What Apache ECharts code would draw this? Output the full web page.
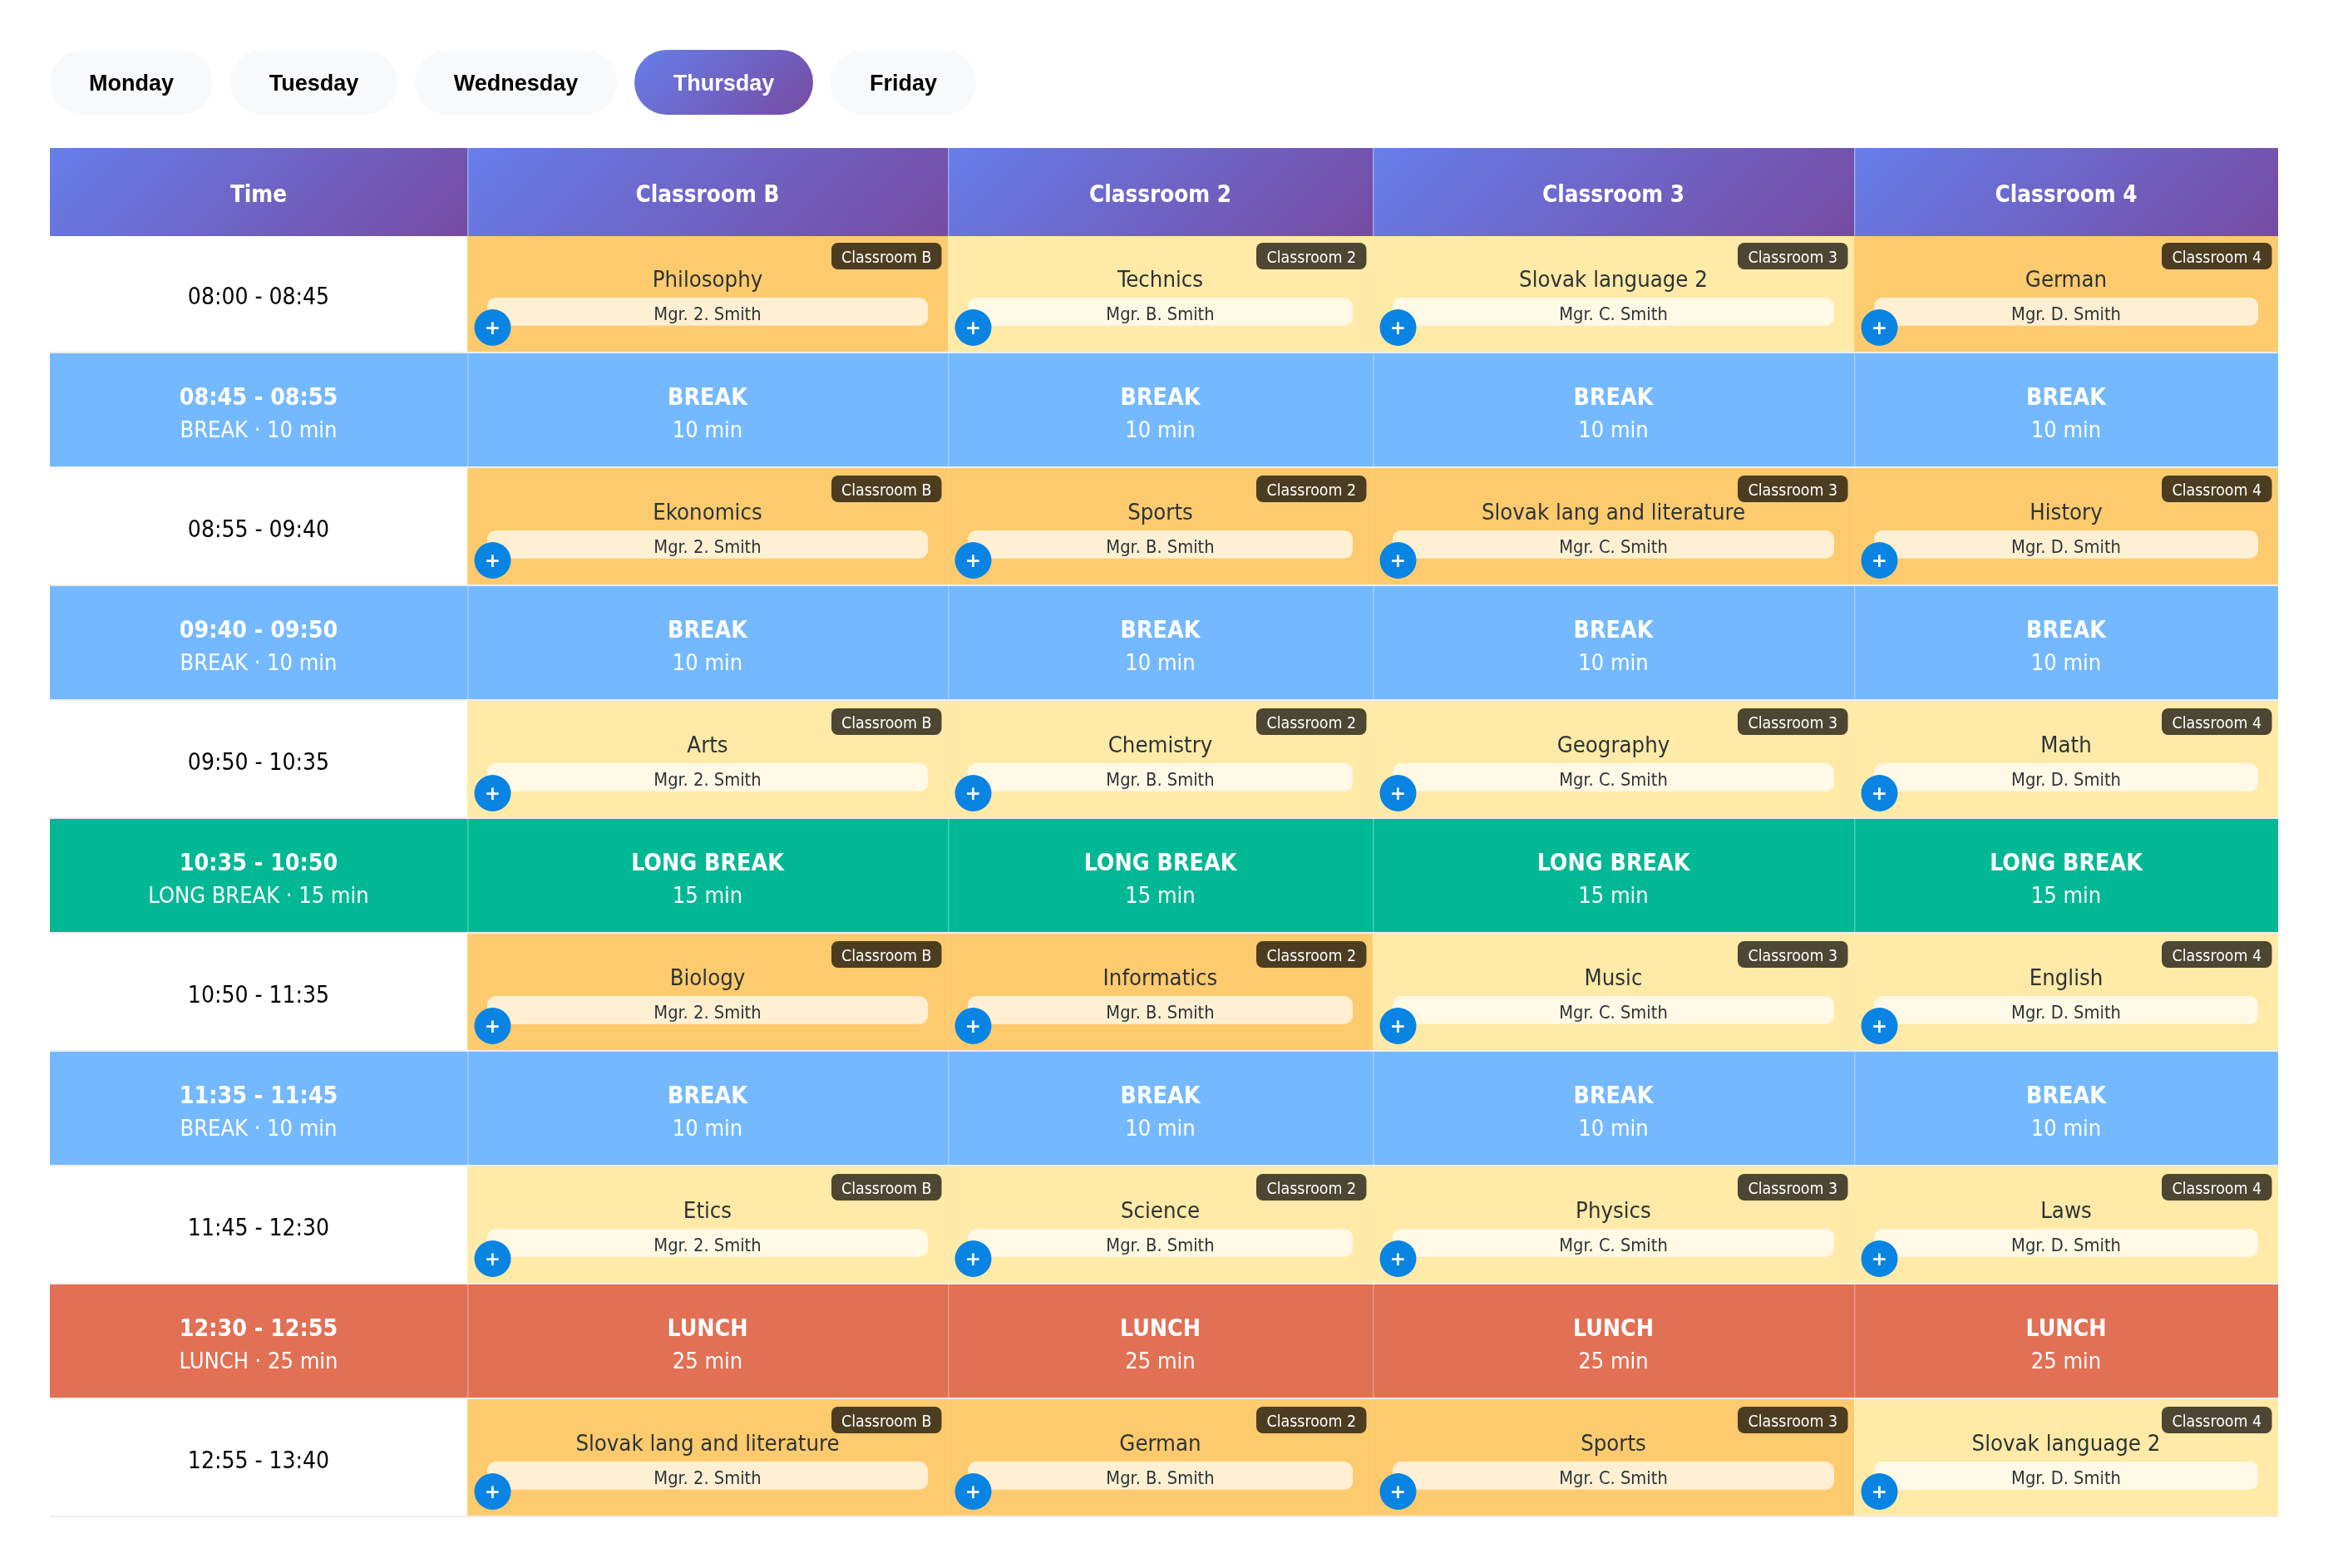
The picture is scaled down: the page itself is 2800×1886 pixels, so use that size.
<!DOCTYPE html>
<html><head><meta charset="utf-8">
<style>html,body{margin:0;padding:0;background:#fff}#c{width:2800px;height:1886px}</style>
<script src="https://cdn.jsdelivr.net/npm/echarts@6/dist/echarts.min.js"></script>
</head><body><div id="c"></div>
<script>
// ---- data ----
const days = ['Monday','Tuesday','Wednesday','Thursday','Friday'];
const activeDay = 'Thursday';
const columns = ['Time','Classroom B','Classroom 2','Classroom 3','Classroom 4'];
const teachers = ['Mgr. 2. Smith','Mgr. B. Smith','Mgr. C. Smith','Mgr. D. Smith'];
const times = ['08:00 - 08:45','08:45 - 08:55','08:55 - 09:40','09:40 - 09:50','09:50 - 10:35','10:35 - 10:50','10:50 - 11:35','11:35 - 11:45','11:45 - 12:30','12:30 - 12:55','12:55 - 13:40'];
const rowKinds = ['lesson','BREAK','lesson','BREAK','lesson','LONG BREAK','lesson','BREAK','lesson','LUNCH','lesson'];
const breakMinutes = [null,10,null,10,null,15,null,10,null,25,null];
const subjects = [
  ['Philosophy','Technics','Slovak language 2','German'],null,
  ['Ekonomics','Sports','Slovak lang and literature','History'],null,
  ['Arts','Chemistry','Geography','Math'],null,
  ['Biology','Informatics','Music','English'],null,
  ['Etics','Science','Physics','Laws'],null,
  ['Slovak lang and literature','German','Sports','Slovak language 2']
];
const tones = [
  ['a','b','b','a'],null,
  ['a','a','a','a'],null,
  ['b','b','b','b'],null,
  ['a','a','b','b'],null,
  ['b','b','b','b'],null,
  ['a','a','a','b']
];
// ---- layout (axis units = page pixels) ----
const dayEdges = [[60,256],[277,478],[499,742],[763,978],[999,1174]];
const dayTop = 60, dayBottom = 138;
const colEdges = [60,562,1140,1651,2230,2740];
const headTop = 178, headBottom = 284;
const rowEdges = [284,425,563,705,843,985,1123,1265,1403,1545,1683,1825];
const FONT = '"DejaVu Sans Condensed","DejaVu Sans",sans-serif';
const ARIAL = '"Liberation Sans",Arial,sans-serif';
const C = {a:'#fdcb6e',b:'#ffeaa7','BREAK':'#74b9ff','LONG BREAK':'#00b894','LUNCH':'#e17055'};

function grad(x0,y0,x1,y1){
  const w=x1-x0,h=y1-y0,d=(w+h)/4,cx=(x0+x1)/2,cy=(y0+y1)/2;
  return new echarts.graphic.LinearGradient(cx-d,cy-d,cx+d,cy+d,[{offset:0,color:'#667eea'},{offset:1,color:'#764ba2'}],true);
}
function rect(api,x0,y0,x1,y1,fill,r){
  const a=api.coord([x0,y0]),b=api.coord([x1,y1]);
  return {type:'rect',shape:{x:a[0],y:a[1],width:b[0]-a[0],height:b[1]-a[1],r:r||0},style:{fill:fill}};
}
function text(api,x,y,t,size,color,weight,family,align){
  const p=api.coord([x,y]);
  return {type:'text',style:{x:p[0],y:p[1],text:t,fill:color,font:(weight||'normal')+' '+size+'px '+(family||FONT),textAlign:align||'center',textVerticalAlign:'middle'}};
}
function renderDay(params,api){
  const i=api.value(0),e=dayEdges[i],on=days[i]===activeDay;
  const a=api.coord([e[0],dayTop]),b=api.coord([e[1],dayBottom]);
  const fill=on?grad(a[0],a[1],b[0],b[1]):'#f8f9fa';
  return {type:'group',children:[
    rect(api,e[0],dayTop,e[1],dayBottom,fill,39),
    text(api,(e[0]+e[1])/2,dayTop+41.5,days[i],27,on?'#ffffff':'#000000','bold',ARIAL)
  ]};
}
function renderHead(params,api){
  const i=api.value(0),x0=colEdges[i],x1=colEdges[i+1];
  return {type:'group',children:[
    rect(api,x0,headTop,x1,headBottom,grad(x0,headTop,x1,headBottom)),
    ...(i?[rect(api,x0,headTop,x0+1.5,headBottom,'rgba(255,255,255,0.35)')]:[]),
    text(api,(x0+x1)/2,(headTop+headBottom)/2+5,columns[i],27.6,'#ffffff','bold')
  ]};
}
function renderCell(params,api){
  const r=api.value(0),c=api.value(1);
  const x0=colEdges[c],x1=colEdges[c+1],y0=rowEdges[r],y1=rowEdges[r+1],yb=y1-2,xm=(x0+x1)/2;
  const kind=rowKinds[r],kids=[];
  kids.push(rect(api,x0,yb,x1,y1,'#eeeeee'));
  if(kind==='lesson'){
    if(c===0){
      kids.push(text(api,xm,y1-66,times[r],28,'#000000'));
    } else {
      kids.push(rect(api,x0,y0,x1,yb,C[tones[r][c-1]]));
      kids.push(rect(api,x0,y0,x0+1,yb,'rgba(255,255,255,0.12)'));
      kids.push(rect(api,x1-140,y1-133,x1-7.5,y1-101,'rgba(0,0,0,0.7)',8));
      kids.push(text(api,x1-73.7,y1-114,columns[c],19.4,'#ffffff'));
      kids.push(text(api,xm,y1-87,subjects[r][c-1],27.3,'#2d3436'));
      kids.push(rect(api,x0+24,y1-67,x1-24,y1-33.3,'rgba(255,255,255,0.7)',10));
      kids.push(text(api,xm,y1-46,teachers[c-1],21.7,'#2d3436'));
      const p=api.coord([x0+30.5,y1-31]);
      kids.push({type:'circle',shape:{cx:p[0],cy:p[1],r:22},style:{fill:'#0984e3'}});
      kids.push(text(api,x0+30.5,y1-28.5,'+',23,'#ffffff','bold','"DejaVu Sans",sans-serif'));
    }
  } else {
    kids.push(rect(api,x0,y0,x1,yb,C[kind]));
    if(c>0) kids.push(rect(api,x0,y0,x0+1.5,yb,'rgba(255,255,255,0.3)'));
    if(c===0){
      kids.push(text(api,xm,y1-83,times[r],28.3,'#ffffff','bold'));
      kids.push(text(api,xm,y1-44,kind+' · '+breakMinutes[r]+' min',27,'#ffffff'));
    } else {
      kids.push(text(api,xm,y1-83,kind,28.3,'#ffffff','bold'));
      kids.push(text(api,xm,y1-44,breakMinutes[r]+' min',27,'#ffffff'));
    }
  }
  return {type:'group',children:kids};
}
const cells=[];
times.forEach((_,r)=>columns.forEach((_,c)=>cells.push([r,c])));
const chart=echarts.init(document.getElementById('c'),null,{renderer:'canvas',devicePixelRatio:1});
chart.setOption({
  animation:false,
  backgroundColor:'#ffffff',
  grid:{left:0,right:0,top:0,bottom:0},
  xAxis:{type:'value',min:0,max:2800,show:false},
  yAxis:{type:'value',min:0,max:1886,inverse:true,show:false},
  series:[
    {type:'custom',name:'days',renderItem:renderDay,data:days.map((_,i)=>[i]),encode:{x:[],y:[]},clip:false,silent:true},
    {type:'custom',name:'head',renderItem:renderHead,data:columns.map((_,i)=>[i]),encode:{x:[],y:[]},clip:false,silent:true},
    {type:'custom',name:'cells',renderItem:renderCell,data:cells,encode:{x:[],y:[]},clip:false,silent:true}
  ]
});
</script></body></html>
